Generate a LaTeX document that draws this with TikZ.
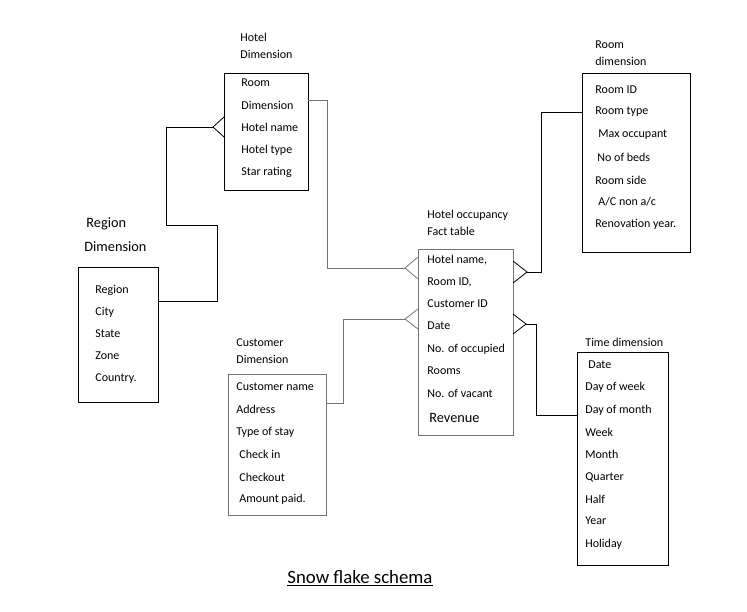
\documentclass[tikz,border=0pt]{standalone}
\usepackage{fontspec}
\setmainfont{Carlito}
\usetikzlibrary{positioning}

\begin{document}
\begin{tikzpicture}[x=1pt,y=-1pt,line width=0.8pt,
  table box/.style={draw,anchor=north west,outer sep=0pt,inner sep=0pt},
  grey box/.style={table box,draw=black!55},
  field/.style={anchor=west,inner sep=0pt,font=\fontsize{12}{13}\selectfont},
  title/.style={anchor=west,inner sep=0pt,align=left,font=\fontsize{12}{17}\selectfont},
  big title/.style={anchor=west,inner sep=0pt,align=left,font=\fontsize{14.3}{24}\selectfont},
  link/.style={draw=black},
  grey link/.style={draw=black!55}]

  \useasboundingbox (0,0) rectangle (747,611);

  % hotel dimension
  \node[title] (hoteltitle) at (240,45.5) {Hotel\\Dimension};
  \node[table box,minimum width=84pt,minimum height=117pt] (hotel) at (224,73) {};
  \node[field] (h1) at (241,83) {Room};
  \node[field] (h2) at (241,105) {Dimension};
  \node[field] (h3) at (241,127) {Hotel name};
  \node[field] (h4) at (241,150) {Hotel type};
  \node[field] (h5) at (241,172) {Star rating};

  % room dimension
  \node[title] (roomtitle) at (595,53.5) {Room\\dimension};
  \node[table box,minimum width=108pt,minimum height=179pt] (room) at (582,73) {};
  \node[field] (r1) at (595,90) {Room ID};
  \node[field] (r2) at (595,112) {Room type};
  \node[field] (r3) at (598,135) {Max occupant};
  \node[field] (r4) at (597,157) {No of beds};
  \node[field] (r5) at (595,180) {Room side};
  \node[field] (r6) at (598,202) {A/C non a/c};
  \node[field] (r7) at (595,224) {Renovation year.};

  % region dimension
  \node[big title] (regiontitle) at (84,235) {\hspace{2pt}Region\\Dimension};
  \node[table box,minimum width=80pt,minimum height=135pt] (region) at (78,267) {};
  \node[field] (g1) at (95,290) {Region};
  \node[field] (g2) at (95,312) {City};
  \node[field] (g3) at (95,334) {State};
  \node[field] (g4) at (95,356) {Zone};
  \node[field] (g5) at (95,379) {Country.};

  % fact table
  \node[title] (facttitle) at (427,223) {Hotel occupancy\\Fact table};
  \node[grey box,minimum width=95pt,minimum height=186pt] (fact) at (418,249) {};
  \node[field] (f1) at (427,260) {Hotel name,};
  \node[field] (f2) at (427,282) {Room ID,};
  \node[field] (f3) at (427,304) {Customer ID};
  \node[field] (f4) at (427,326) {Date};
  \node[field] (f5) at (427,349) {No. of occupied};
  \node[field] (f6) at (427,371) {Rooms};
  \node[field] (f7) at (427,393) {No. of vacant};
  \node[field,font=\fontsize{14.3}{16}\selectfont] (f8) at (429,418) {Revenue};

  % customer dimension
  \node[title] (custtitle) at (236,351) {Customer\\Dimension};
  \node[grey box,minimum width=98pt,minimum height=141pt] (customer) at (228,374) {};
  \node[field] (c1) at (236,387) {Customer name};
  \node[field] (c2) at (236,409) {Address};
  \node[field] (c3) at (236,432) {Type of stay};
  \node[field] (c4) at (239,454) {Check in};
  \node[field] (c5) at (239,477) {Checkout};
  \node[field] (c6) at (239,499) {Amount paid.};

  % time dimension
  \node[title] (timetitle) at (585,342) {Time dimension};
  \node[table box,minimum width=91pt,minimum height=213pt] (time) at (577,352) {};
  \node[field] (t1) at (588,365) {Date};
  \node[field] (t2) at (585,387) {Day of week};
  \node[field] (t3) at (585,410) {Day of month};
  \node[field] (t4) at (585,432) {Week};
  \node[field] (t5) at (585,454) {Month};
  \node[field] (t6) at (585,477) {Quarter};
  \node[field] (t7) at (585,499) {Half};
  \node[field] (t8) at (585,521) {Year};
  \node[field] (t9) at (585,544) {Holiday};

  \node[anchor=west,inner sep=0pt,font=\fontsize{18.8}{20}\selectfont] (caption) at (287,578) {\underline{Snow flake schema}};

  % link ends
  \coordinate (hr) at (hotel.west |- h3);
  \coordinate (rg) at ([yshift=-34pt]region.north east);
  \coordinate (hf) at ([yshift=-27pt]hotel.north east);
  \coordinate (fh) at ([yshift=-19pt]fact.north west);
  \coordinate (rf) at (room.west |- r2);
  \coordinate (fr) at ([yshift=-23pt]fact.north east);
  \coordinate (cf) at ([yshift=-29pt]customer.north east);
  \coordinate (fc) at ([yshift=-70pt]fact.north west);
  \coordinate (ft) at ([yshift=-75pt]fact.north east);
  \coordinate (tf) at ([yshift=-63pt]time.north west);

  % region -- hotel
  \draw[link] (rg) -| (217,225) -| (166,127) -- (213,127);
  \draw[link] ([yshift=10pt]hr) -- (213,127) -- ([yshift=-10pt]hr);
  % hotel -- fact
  \draw[grey link] (hf) -| (327,268) -- (405,268);
  \draw[grey link] ([yshift=11pt]fh) -- (405,268) -- ([yshift=-11pt]fh);
  % room -- fact
  \draw[link] (rf) -| (541,272) -- (527,272);
  \draw[link] ([yshift=11pt]fr) -- (527,272) -- ([yshift=-11pt]fr);
  % customer -- fact
  \draw[grey link] (cf) -| (343,319) -- (405,319);
  \draw[grey link] ([yshift=10pt]fc) -- (405,319) -- ([yshift=-10pt]fc);
  % fact -- time
  \draw[link] ([yshift=10pt]ft) -- (526,324) -- ([yshift=-10pt]ft);
  \draw[link] (526,324) -- (536,324) |- (tf);

\end{tikzpicture}
\end{document}
